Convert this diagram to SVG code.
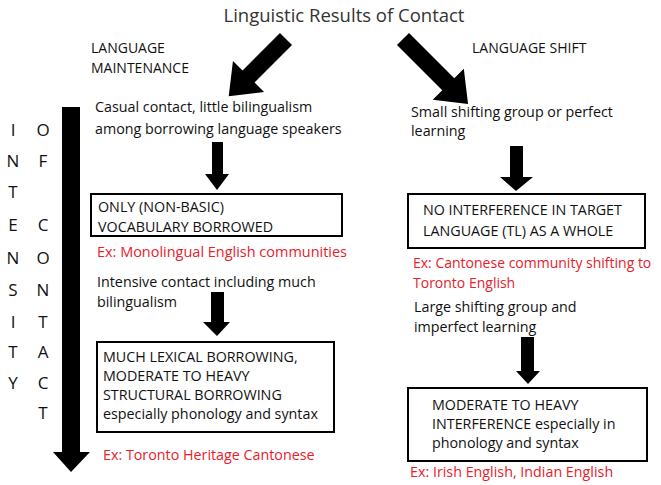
<svg xmlns="http://www.w3.org/2000/svg" width="661" height="485" viewBox="0 0 661 485">
<defs>
<style>
text{font-family:"Open Sans","Noto Sans","Liberation Sans",sans-serif;fill:#111;font-size:14.3px}
.t{font-size:18.5px;fill:#333}
.h{font-size:14px}
.r{fill:#e8202a}
.big{font-size:14px}
.v{font-size:17px}
.box{fill:#fff;stroke:#000;stroke-width:2}
.arr{fill:#000}
</style>
</defs>
<rect width="661" height="485" fill="#fff"/>
<g id="title"><text class="t" x="344" y="22" text-anchor="middle">Linguistic Results of Contact</text></g>
<g id="lm"><text class="h" x="91" y="53">LANGUAGE</text><text class="h" x="91" y="73">MAINTENANCE</text></g>
<g id="ls"><text class="h" x="472" y="53">LANGUAGE SHIFT</text></g>
<g id="intensity">
<text class="v" x="13" y="136" text-anchor="middle">I</text>
<text class="v" x="13" y="167" text-anchor="middle">N</text>
<text class="v" x="13" y="198" text-anchor="middle">T</text>
<text class="v" x="13" y="231" text-anchor="middle">E</text>
<text class="v" x="13" y="264" text-anchor="middle">N</text>
<text class="v" x="13" y="296" text-anchor="middle">S</text>
<text class="v" x="13" y="328" text-anchor="middle">I</text>
<text class="v" x="13" y="358" text-anchor="middle">T</text>
<text class="v" x="13" y="389" text-anchor="middle">Y</text>
<text class="v" x="43" y="136" text-anchor="middle">O</text>
<text class="v" x="43" y="167" text-anchor="middle">F</text>
<text class="v" x="43" y="231" text-anchor="middle">C</text>
<text class="v" x="43" y="264" text-anchor="middle">O</text>
<text class="v" x="43" y="296" text-anchor="middle">N</text>
<text class="v" x="43" y="328" text-anchor="middle">T</text>
<text class="v" x="43" y="358" text-anchor="middle">A</text>
<text class="v" x="43" y="389" text-anchor="middle">C</text>
<text class="v" x="43" y="419" text-anchor="middle">T</text>
</g>
<g id="connectors">
<polygon class="arr" transform="translate(286,39) rotate(45)" points="-8.5,0 8.5,0 8.5,53 22,53 0,81 -22,53 -8.5,53"/>
<polygon class="arr" transform="translate(403,39) rotate(-45)" points="-8.5,0 8.5,0 8.5,64 22,64 0,92 -22,64 -8.5,64"/>
<polygon class="arr" points="62,107 80,107 80,452 90,452 71,472 53,452 62,452"/>
<polygon class="arr" points="212,142 223,142 223,174 229,174 217,190 205,174 212,174"/>
<polygon class="arr" points="510,146 523,146 523,177 533,177 516,191 500,177 510,177"/>
<polygon class="arr" points="211,292 224,292 224,322 230,322 217,336 203,322 211,322"/>
<polygon class="arr" points="521,337 534,337 534,371 540,371 528,384 516,371 521,371"/>
</g>
<g id="casual"><text x="95" y="112">Casual contact, little bilingualism</text><text x="95" y="134">among borrowing language speakers</text></g>
<g id="box1"><rect class="box" x="91" y="194" width="251" height="42"/><text x="98" y="212">ONLY (NON-BASIC)</text><text x="98" y="232">VOCABULARY BORROWED</text></g>
<g id="ex1"><text class="r" x="97" y="257" textLength="250" lengthAdjust="spacingAndGlyphs">Ex: Monolingual English communities</text></g>
<g id="intensive"><text x="97" y="287">Intensive contact including much</text><text x="97" y="307">bilingualism</text></g>
<g id="box2"><rect class="box" x="97" y="342" width="237" height="90"/><text x="103" y="362">MUCH LEXICAL BORROWING,</text><text x="103" y="381">MODERATE TO HEAVY</text><text x="103" y="400">STRUCTURAL BORROWING</text><text x="103" y="419">especially phonology and syntax</text></g>
<g id="ex2"><text class="r" x="103" y="460">Ex: Toronto Heritage Cantonese</text></g>
<g id="small"><text x="411" y="117">Small shifting group or perfect</text><text x="411" y="136">learning</text></g>
<g id="box3"><rect class="box" x="408" y="194" width="237" height="54"/><text x="423" y="215">NO INTERFERENCE IN TARGET</text><text x="423" y="236">LANGUAGE (TL) AS A WHOLE</text></g>
<g id="ex3"><text class="r big" x="413" y="268">Ex: Cantonese community shifting to</text><text class="r big" x="413" y="288">Toronto English</text></g>
<g id="large"><text x="414" y="312">Large shifting group and</text><text x="414" y="332">imperfect learning</text></g>
<g id="box4"><rect class="box" x="408" y="388" width="239" height="73"/><text x="432" y="410">MODERATE TO HEAVY</text><text x="432" y="429">INTERFERENCE especially in</text><text x="432" y="448">phonology and syntax</text></g>
<g id="ex4"><text class="r" x="410" y="477">Ex: Irish English, Indian English</text></g>
</svg>
